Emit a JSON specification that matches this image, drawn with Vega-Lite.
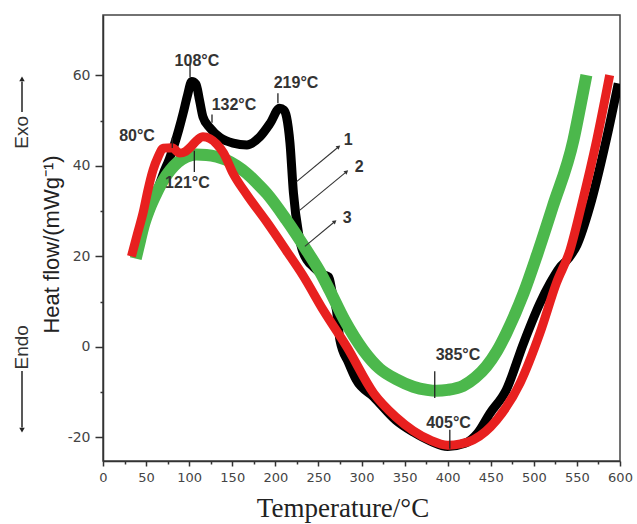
{
  "$schema": "https://vega.github.io/schema/vega-lite/v6.json",
  "width": 517,
  "height": 446,
  "autosize": "none",
  "padding": {"left": 103, "top": 15, "right": 17, "bottom": 63},
  "background": "white",
  "config": {"view": {"stroke": "#444", "strokeWidth": 1.5}, "font": "Liberation Sans"},
  "datasets": {
    "curve1": [
      {"T":35,"H":20},{"T":45,"H":25.5},{"T":55,"H":30.5},{"T":63,"H":34.5},{"T":70,"H":38.3},{"T":77,"H":41.5},{"T":82,"H":44.2},{"T":88,"H":48},{"T":93,"H":51.6},{"T":98,"H":55.5},{"T":103,"H":58.6},{"T":108,"H":58},{"T":112,"H":54.5},{"T":116,"H":50.8},{"T":124,"H":48.4},{"T":136,"H":46.2},{"T":151,"H":45},{"T":167,"H":44.6},{"T":182,"H":46.4},{"T":194,"H":49.4},{"T":205,"H":52.7},{"T":210,"H":52.3},{"T":213,"H":50.8},{"T":217,"H":45},{"T":221,"H":34},{"T":227,"H":25},{"T":232,"H":21},{"T":245,"H":17.5},{"T":255,"H":16},{"T":262,"H":15.4},{"T":266,"H":12},{"T":271,"H":8},{"T":275,"H":1.5},{"T":285,"H":-3.5},{"T":294,"H":-7.3},{"T":314,"H":-11},{"T":340,"H":-16.2},{"T":360,"H":-18.8},{"T":380,"H":-20.8},{"T":400,"H":-22},{"T":420,"H":-21.3},{"T":435,"H":-19},{"T":449,"H":-14.7},{"T":468,"H":-9.5},{"T":488,"H":0.8},{"T":507,"H":9.6},{"T":519,"H":14.1},{"T":530,"H":17.5},{"T":540,"H":19.5},{"T":550,"H":22.5},{"T":565,"H":31},{"T":584,"H":45.7},{"T":598,"H":58.2}
    ],
    "curve2": [
      {"T":33,"H":20},{"T":40,"H":25},{"T":47,"H":30},{"T":52,"H":34.5},{"T":58,"H":39},{"T":64,"H":42},{"T":70,"H":43.9},{"T":80,"H":44},{"T":89,"H":42.8},{"T":96,"H":43.2},{"T":101,"H":44},{"T":110,"H":45.8},{"T":116,"H":46.4},{"T":124,"H":46},{"T":132,"H":44.8},{"T":140,"H":42.8},{"T":151,"H":38.3},{"T":167,"H":33.6},{"T":190,"H":27.6},{"T":213,"H":21.2},{"T":232,"H":15.8},{"T":256,"H":8},{"T":283,"H":0},{"T":314,"H":-10.2},{"T":340,"H":-15.5},{"T":360,"H":-18.5},{"T":380,"H":-20.6},{"T":400,"H":-21.7},{"T":415,"H":-21.4},{"T":430,"H":-20.5},{"T":457,"H":-16.1},{"T":484,"H":-8},{"T":507,"H":3},{"T":526,"H":14},{"T":542,"H":21.4},{"T":555,"H":31},{"T":573,"H":45.7},{"T":588,"H":60}
    ],
    "curve3": [
      {"T":38,"H":19.5},{"T":43,"H":23.5},{"T":47,"H":26.6},{"T":54,"H":30.5},{"T":62,"H":33.9},{"T":70,"H":36.8},{"T":78,"H":39},{"T":87,"H":40.8},{"T":97,"H":42},{"T":108,"H":42.5},{"T":120,"H":42.4},{"T":132,"H":42},{"T":143,"H":41.3},{"T":155,"H":40},{"T":167,"H":38.3},{"T":178,"H":36.3},{"T":190,"H":33.9},{"T":213,"H":28},{"T":236,"H":21.4},{"T":252,"H":16.5},{"T":263,"H":12.5},{"T":280,"H":6},{"T":302,"H":-0.7},{"T":321,"H":-4.8},{"T":341,"H":-7.2},{"T":360,"H":-8.8},{"T":376,"H":-9.5},{"T":387,"H":-9.7},{"T":400,"H":-9.5},{"T":418,"H":-8.6},{"T":432,"H":-6.8},{"T":445,"H":-4.3},{"T":457,"H":-1},{"T":468,"H":3},{"T":488,"H":11.8},{"T":503,"H":19.9},{"T":522,"H":31},{"T":546,"H":45.7},{"T":554,"H":53.2},{"T":561,"H":60}
    ],
    "peakLabels": [
      {"T":109,"H":63.1,"label":"108°C"},
      {"T":152,"H":53.4,"label":"132°C"},
      {"T":224,"H":58.3,"label":"219°C"},
      {"T":39.5,"H":46.5,"label":"80°C"},
      {"T":98,"H":36.3,"label":"121°C"},
      {"T":412,"H":-1.9,"label":"385°C"},
      {"T":401,"H":-16.7,"label":"405°C"},
      {"T":284.6,"H":45.7,"label":"1"},
      {"T":297.4,"H":39.8,"label":"2"},
      {"T":283.4,"H":28.4,"label":"3"}
    ],
    "peakTicks": [
      {"T":101,"H":59.6,"H2":62.5},
      {"T":126.5,"H":49.5,"H2":51.3},
      {"T":203,"H":53.8,"H2":56},
      {"T":80.4,"H":43.9,"H2":46.2},
      {"T":106,"H":38.6,"H2":43.3},
      {"T":385,"H":-11.3,"H2":-5.4},
      {"T":402.5,"H":-22.5,"H2":-18.3}
    ],
    "pointers": [
      {"T":224.7,"H":36.5,"T2":273.5,"H2":44.2},
      {"T":228.5,"H":30.2,"T2":282.7,"H2":38.7},
      {"T":234.3,"H":22.2,"T2":269.1,"H2":27.7}
    ],
    "sideText": [
      {"T":-94,"H":47.4,"label":"Exo"},
      {"T":-94,"H":-0.1,"label":"Endo"}
    ],
    "sideLines": [
      {"T":-94,"H":51.9,"H2":58.6},
      {"T":-94,"H":-5.3,"H2":-17.8}
    ],
    "sideHeads": [
      {"T":-94,"H":59.2,"dir":"up"},
      {"T":-94,"H":-18.4,"dir":"down"}
    ]
  },
  "encoding": {
    "x": {
      "field": "T", "type": "quantitative",
      "scale": {"domain": [0, 600], "nice": false, "zero": false},
      "axis": {
        "title": "Temperature/°C",
        "values": [0,25,50,75,100,125,150,175,200,225,250,275,300,325,350,375,400,425,450,475,500,525,550,575,600],
        "labelExpr": "datum.value % 50 === 0 ? toString(datum.value) : ''",
        "labelOverlap": false, "labelFlush": false,
        "tickSize": {"condition": {"test": "datum.value % 50 === 0", "value": 5}, "value": 3},
        "labelFont": "DejaVu Sans", "labelFontSize": 13, "labelColor": "#444", "labelPadding": 5,
        "domainColor": "#333", "domainWidth": 1.5, "tickColor": "#333", "tickWidth": 1.5, "grid": false,
        "titleFont": "Liberation Serif", "titleFontSize": 27, "titleFontWeight": "normal", "titleColor": "#222",
        "titleX": 239.5, "titleY": 55, "titleBaseline": "alphabetic"
      }
    },
    "y": {
      "field": "H", "type": "quantitative",
      "scale": {"domain": [-25.2, 73.3], "nice": false, "zero": false},
      "axis": {
        "title": "Heat flow/(mWg⁻¹)",
        "values": [-20,-10,0,10,20,30,40,50,60],
        "labelExpr": "datum.value % 20 === 0 ? toString(datum.value) : ''",
        "labelOverlap": false, "labelFlush": false,
        "tickSize": {"condition": {"test": "datum.value % 20 === 0", "value": 8}, "value": 3},
        "labelFont": "DejaVu Sans", "labelFontSize": 14, "labelColor": "#444", "labelPadding": 5,
        "domainColor": "#333", "domainWidth": 1.5, "tickColor": "#333", "tickWidth": 1.5, "grid": false,
        "titleFont": "Liberation Sans", "titleFontSize": 22, "titleFontWeight": "normal", "titleColor": "#222",
        "titleAngle": 270, "titleX": -52, "titleY": 229, "titleBaseline": "middle"
      }
    }
  },
  "layer": [
    {"data": {"name": "curve1"}, "mark": {"type": "line", "color": "#000000", "strokeWidth": 9, "interpolate": "monotone", "strokeCap": "butt", "clip": true}},
    {"data": {"name": "curve3"}, "mark": {"type": "line", "color": "#4cb84c", "strokeWidth": 12, "interpolate": "monotone", "strokeCap": "butt", "clip": true}},
    {"data": {"name": "curve2"}, "mark": {"type": "line", "color": "#e8201f", "strokeWidth": 9, "interpolate": "monotone", "strokeCap": "butt", "clip": true}},
    {"data": {"name": "peakTicks"}, "mark": {"type": "rule", "color": "#222", "strokeWidth": 1.3}, "encoding": {"y2": {"field": "H2"}}},
    {"data": {"name": "pointers"}, "mark": {"type": "rule", "color": "#333", "strokeWidth": 1.1}, "encoding": {"x2": {"field": "T2"}, "y2": {"field": "H2"}}},
    {"data": {"name": "pointers"}, "mark": {"type": "point", "shape": "triangle-up", "filled": true, "color": "#333", "size": 22, "angle": 50, "opacity": 1}, "encoding": {"x": {"field": "T2", "type": "quantitative"}, "y": {"field": "H2", "type": "quantitative"}}},
    {"data": {"name": "peakLabels"}, "mark": {"type": "text", "fontSize": 16, "fontWeight": "bold", "color": "#333", "align": "center", "baseline": "middle"}, "encoding": {"text": {"field": "label"}}},
    {"data": {"name": "sideText"}, "mark": {"type": "text", "fontSize": 19, "color": "#333", "align": "center", "baseline": "middle", "angle": 270}, "encoding": {"text": {"field": "label"}}},
    {"data": {"name": "sideLines"}, "mark": {"type": "rule", "color": "#222", "strokeWidth": 1.5}, "encoding": {"y2": {"field": "H2"}}},
    {"data": {"name": "sideHeads"}, "mark": {"type": "point", "filled": true, "color": "#222", "size": 30, "opacity": 1}, "encoding": {"shape": {"field": "dir", "type": "nominal", "scale": {"domain": ["up", "down"], "range": ["triangle-up", "triangle-down"]}, "legend": null}}}
  ]
}
